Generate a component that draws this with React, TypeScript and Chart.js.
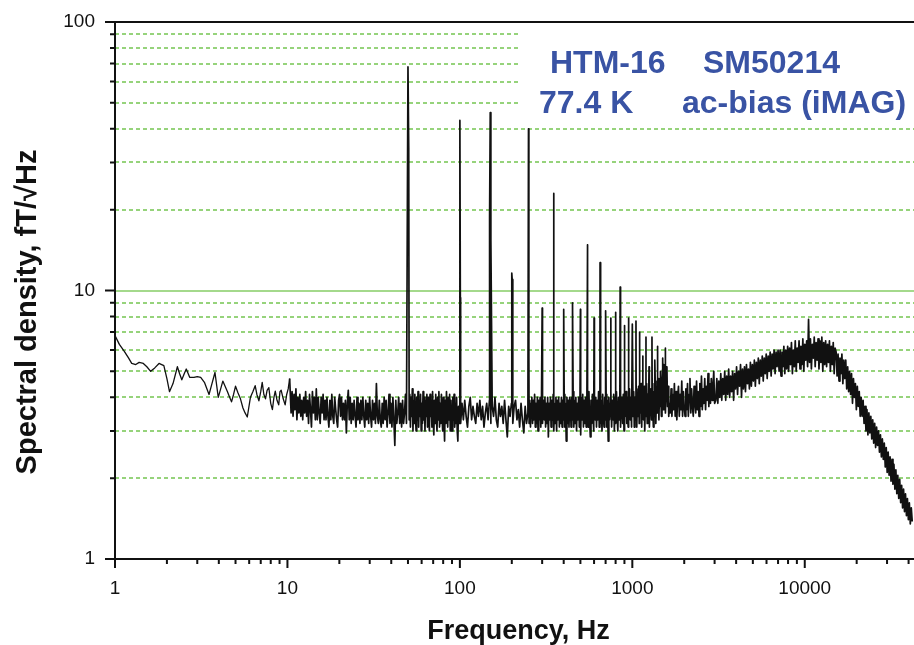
import { useEffect, useRef } from "react";
import { Chart, registerables } from "chart.js";

Chart.register(...registerables);

// ---------- DATA ----------
// Low-frequency part (1–10 Hz), read point by point
const lowFreqs = [
  1, 1.06, 1.13, 1.2, 1.25, 1.32, 1.38, 1.46, 1.53, 1.61,
  1.7, 1.8, 1.92, 2.0, 2.07, 2.17, 2.3, 2.37, 2.44, 2.52,
  2.59, 2.71, 2.87, 3.0, 3.14, 3.3, 3.51, 3.65, 3.8, 3.97,
  4.1, 4.22, 4.35, 4.49, 4.62, 4.74, 4.87, 5.0, 5.17, 5.34,
  5.52, 5.68, 5.85, 6.1, 6.3, 6.5, 6.65, 6.83, 7.0, 7.14,
  7.3, 7.46, 7.62, 7.8, 8.0, 8.18, 8.35, 8.5, 8.7, 8.9,
  9.05, 9.2, 9.45, 9.7, 9.9, 10.1, 10.3,
];
const lowValues = [
  6.8, 6.3, 5.95, 5.6, 5.35, 5.3, 5.4, 5.35, 5.2, 5.0,
  5.15, 5.35, 5.25, 4.7, 4.2, 4.5, 5.2, 4.9, 4.65, 4.9,
  5.1, 4.75, 4.75, 4.78, 4.75, 4.55, 4.1, 4.5, 4.95, 4.0,
  4.3, 4.6, 4.4, 4.2, 4.0, 3.85, 4.1, 4.4, 4.15, 3.95,
  3.65, 3.5, 3.38, 4.0, 4.2, 4.42, 4.1, 3.88, 4.2, 4.55,
  4.1, 3.95, 4.25, 4.35, 3.8, 3.6, 4.0, 4.22, 3.9, 3.75,
  4.2, 4.25, 3.95, 3.75, 4.1, 4.3, 4.7,
];

// Dense noise segments: first / last frequency of each band and the values read across it
const bandStartHz = [10.5, 50.8, 101, 252, 1010, 1660, 3050, 7100, 15200];
const bandEndHz = [49, 99, 248, 990, 1640, 3000, 7000, 15000, 42000];

const band10to50 = [
  3.5, 4.2, 3.4, 4.1, 3.6, 4.3, 3.3, 4.0, 3.5, 4.1,
  3.4, 3.9, 3.3, 4.0, 3.5, 4.2, 3.4, 3.9, 3.2, 4.1,
  3.6, 3.1, 4.2, 3.5, 4.0, 3.3, 4.3, 3.3, 4.0, 3.5,
  3.2, 4.0, 3.5, 4.1, 3.3, 3.9, 3.3, 4.0, 3.4, 3.1,
  3.9, 3.3, 4.1, 3.4, 3.2, 4.0, 3.6, 3.3, 3.1, 3.9,
  4.1, 3.4, 4.0, 3.3, 3.8, 3.3, 3.9, 2.95, 3.8, 4.25,
  3.3, 4.0, 3.2, 3.8, 3.3, 3.9, 3.4, 3.1, 4.0, 3.3,
  3.8, 3.2, 3.9, 3.3, 4.0, 3.4, 3.1, 3.9, 3.3, 3.8,
  3.2, 4.0, 3.4, 3.1, 3.9, 3.3, 3.8, 3.2, 4.5, 3.4,
  3.2, 3.9, 3.3, 3.1, 3.8, 3.2, 4.0, 3.3, 3.9, 3.1,
  3.5, 4.1, 3.2, 3.8, 3.1, 4.0, 3.3, 2.65, 3.9, 3.2,
  3.5, 4.0, 3.2, 3.8, 3.1, 3.9, 3.2, 3.5, 4.1, 3.2,
];
const band50to100 = [
  3.3, 4.1, 3.1, 4.0, 3.4, 4.3, 3.0, 3.9, 3.2, 4.1,
  3.4, 3.0, 4.0, 3.3, 4.2, 3.1, 3.9, 3.4, 4.1, 3.0,
  3.8, 3.2, 4.2, 3.3, 4.0, 3.0, 3.9, 3.4, 4.1, 3.1,
  4.0, 3.3, 3.0, 4.1, 3.4, 3.9, 3.1, 4.2, 3.3, 2.9,
  3.9, 3.2, 4.1, 3.4, 3.0, 4.0, 3.3, 4.2, 3.1, 3.8,
  3.2, 4.1, 3.4, 3.0, 4.0, 3.3, 2.75, 3.9, 3.2, 4.2,
  3.4, 3.1, 4.0, 3.3, 4.1, 3.0, 3.9, 3.4, 3.0, 4.0,
  3.3, 4.1, 3.1, 3.8, 3.2, 4.0, 3.0, 2.75, 3.7, 3.2,
];
const band100to250 = [
  3.2, 3.8, 3.3, 3.9, 3.4, 3.1, 3.7, 4.0, 3.3, 3.7,
  3.4, 3.2, 3.8, 3.4, 3.9, 3.3, 3.7, 3.1, 3.5, 3.8,
  3.3, 3.9, 3.2, 3.7, 3.4, 4.0, 3.3, 3.1, 3.8, 3.4,
  3.7, 3.2, 3.9, 3.3, 2.85, 3.7, 3.4, 3.8, 3.2, 3.7,
  3.9, 3.3, 3.6, 3.1, 3.8, 3.3, 2.95, 3.7, 3.2, 3.5,
];
const band250to1000 = [
  3.2, 3.9, 3.1, 3.8, 4.0, 3.2, 3.9, 3.3, 4.1, 3.1,
  3.8, 3.2, 4.0, 3.0, 3.9, 3.3, 4.0, 3.1, 3.8, 4.1,
  3.2, 3.9, 3.3, 4.0, 3.1, 3.8, 3.2, 4.0, 2.85, 3.8,
  3.3, 4.0, 3.1, 3.9, 3.3, 4.1, 3.0, 3.8, 3.2, 4.0,
  3.0, 3.9, 3.3, 4.0, 3.1, 3.8, 3.2, 4.0, 3.1, 3.9,
  3.3, 4.1, 3.1, 3.8, 2.75, 4.0, 3.2, 3.9, 3.1, 4.0,
  3.8, 3.1, 4.0, 3.3, 4.2, 3.1, 3.9, 3.2, 4.0, 3.0,
  3.8, 3.3, 4.0, 3.1, 3.9, 2.9, 4.0, 3.3, 4.1, 3.1,
  3.9, 3.2, 4.0, 3.1, 3.8, 4.0, 3.1, 4.2, 3.3, 2.85,
  3.9, 3.2, 4.1, 3.4, 3.0, 4.0, 3.3, 4.0, 3.1, 3.9,
  3.3, 4.2, 3.1, 4.0, 3.2, 3.9, 3.0, 4.1, 3.4, 3.1,
  4.0, 3.3, 4.1, 3.1, 3.9, 2.75, 4.0, 3.3, 3.8, 4.2,
  3.1, 3.9, 3.3, 4.1, 3.0, 4.0, 3.2, 4.2, 3.4, 3.0,
  4.0, 3.3, 4.3, 3.1, 3.9, 4.0, 3.2, 4.1, 3.0, 4.0,
  3.4, 4.2, 3.2, 4.0, 3.1, 3.9, 4.3, 3.3, 4.0, 3.1,
];
const band1000to1600 = [
  3.4, 4.2, 3.1, 4.0, 3.3, 4.3, 3.1, 3.9, 3.4, 4.4,
  3.2, 4.0, 3.5, 4.5, 3.1, 3.9, 4.2, 3.3, 4.4, 3.0,
  3.9, 3.4, 4.5, 3.2, 4.1, 3.5, 4.6, 3.1, 4.0, 4.3,
  3.3, 4.5, 3.6, 3.1, 4.2, 3.4, 4.6, 3.2, 4.1, 4.4,
  3.5, 4.7, 3.3, 4.3, 3.7, 4.9, 3.4, 4.5, 5.1, 3.6,
  5.3, 4.0, 5.0, 3.5, 4.6, 5.2, 3.7, 4.4, 3.4, 3.8,
];
const band1600to3000 = [
  3.5, 4.3, 3.4, 4.1, 3.6, 4.5, 3.4, 4.2, 3.3, 4.0,
  4.4, 3.4, 4.1, 3.6, 4.6, 3.4, 4.2, 3.7, 3.4, 4.3,
  3.6, 4.5, 3.4, 4.1, 4.7, 3.5, 4.3, 3.7, 3.4, 4.4,
  3.8, 3.5, 4.6, 3.6, 4.2, 3.4, 4.5, 3.7, 4.8, 3.6,
  4.3, 3.8, 4.7, 3.6, 4.4, 3.9, 4.9, 3.7, 4.5, 3.8,
  4.7, 3.9, 4.4, 5.0, 3.8,
];
const band3000to7000 = [
  3.9, 4.7, 3.8, 4.6, 4.0, 4.9, 3.9, 4.7, 4.1, 5.0,
  3.9, 4.8, 4.1, 5.1, 4.0, 4.8, 4.2, 5.0, 3.9, 4.9,
  4.3, 5.2, 4.1, 5.0, 4.4, 5.3, 4.0, 5.1, 4.3, 5.2,
  4.2, 5.3, 4.5, 5.1, 4.3, 5.4, 4.4, 5.3, 4.6, 5.5,
  4.4, 5.4, 4.7, 5.6, 4.5, 5.5, 4.8, 5.7, 4.6, 5.6,
  4.9, 5.8, 4.7, 5.7, 5.0, 5.9, 4.8, 5.8, 5.1, 6.0,
  4.9, 5.9, 5.2, 6.0,
];
const band7000to15000 = [
  5.0, 6.0, 4.8, 5.9, 5.2, 6.2, 4.9, 6.0, 5.1, 6.2,
  5.0, 6.1, 5.3, 6.4, 4.9, 6.0, 5.2, 6.5, 5.0, 6.1,
  5.4, 6.5, 5.1, 6.2, 5.3, 6.6, 5.0, 6.3, 5.5, 6.5,
  5.2, 7.8, 5.4, 6.6, 5.1, 6.3, 5.6, 6.7, 5.2, 6.4,
  5.5, 6.6, 5.1, 6.5, 5.4, 6.7, 5.0, 6.4, 5.3, 6.5,
  5.2, 6.3, 5.4, 6.5, 5.0, 6.2, 5.3, 6.4, 4.9, 6.1,
];
const band15000to42000 = [
  5.9, 4.8, 5.8, 4.6, 5.6, 4.9, 5.8, 4.5, 5.5, 4.7, 5.5, 4.3, 5.2, 4.2, 5.0,
  4.1, 4.9, 3.8, 4.7, 4.0, 4.5, 3.6, 4.4, 3.7, 4.2, 3.4, 4.0, 3.4, 3.9, 3.2,
  3.7, 3.0, 3.6, 2.9, 3.5, 2.95, 3.4, 2.8, 3.3, 2.7, 3.2, 2.6, 3.1, 2.65, 3.0,
  2.5, 2.9, 2.4, 2.8, 2.35,
  2.7, 2.2, 2.6, 2.1, 2.5, 2.05, 2.4, 1.95, 2.35, 1.9, 2.25, 1.82, 2.15, 1.75, 2.05,
  1.68, 1.98, 1.62, 1.88, 1.55, 1.82, 1.5, 1.75, 1.45, 1.68, 1.4, 1.62, 1.35, 1.55, 1.38,
];
const bandValues = [
  band10to50, band50to100, band100to250, band250to1000, band1000to1600,
  band1600to3000, band3000to7000, band7000to15000, band15000to42000,
];

// Power-line harmonics (spikes)
const spikeFreqs = [
  50, 50.5, 100, 100.6, 148.7, 150, 151.3, 200, 201, 250, 251.2, 300, 350, 400, 450, 500,
  550, 600, 650, 700, 750, 800, 850, 900, 950, 1000, 1050, 1100, 1150, 1200,
  1250, 1300, 1350, 1400, 1450, 1500, 1550,
];
const spikeValues = [
  68, 34, 43, 9.4, 18.8, 46, 15.4, 11.6, 11, 40, 5.7, 8.6, 23, 8.5, 9.0, 8.5,
  14.8, 7.9, 12.7, 8.4, 7.9, 8.3, 10.3, 7.4, 7.9, 7.5, 7.7, 7.0, 5.7, 6.7,
  5.2, 6.7, 5.5, 6.2, 5.0, 5.6, 6.1,
];

const xTickValues = [1, 10, 100, 1000, 10000];
const yTickValues = [1, 10, 100];
const minorMultipliers = [2, 3, 4, 5, 6, 7, 8, 9];

const X_MIN = 1;
const X_MAX = 43000;
const Y_MIN = 1;
const Y_MAX = 100;

// ---------- STYLE ----------
const FONT = "'Liberation Sans', Arial, Helvetica, sans-serif";
const GRID_GREEN = "#74c550";
const TEXT_BLUE = "#3953a4";

function lowPoints() {
  return lowFreqs.map((f, i) => ({ x: f, y: lowValues[i] }));
}

function densePoints() {
  const pts: { x: number; y: number }[] = [];
  const last = lowFreqs.length - 1;
  pts.push({ x: lowFreqs[last], y: lowValues[last] });
  bandValues.forEach((vals, b) => {
    const a = Math.log10(bandStartHz[b]);
    const z = Math.log10(bandEndHz[b]);
    const n = vals.length;
    vals.forEach((v, i) => {
      pts.push({ x: Math.pow(10, a + ((z - a) * i) / (n - 1)), y: v });
    });
  });
  spikeFreqs.forEach((f, i) => pts.push({ x: f, y: spikeValues[i] }));
  pts.sort((p, q) => p.x - q.x);
  return pts;
}

const decorPlugin = {
  id: "decor",
  beforeDatasetsDraw(chart: any) {
    const { ctx, chartArea: a, scales } = chart;
    const y = scales.y;
    ctx.save();
    // minor dashed grid
    ctx.strokeStyle = GRID_GREEN;
    ctx.lineWidth = 1.4;
    ctx.setLineDash([4, 3]);
    for (let d = 0; d < yTickValues.length - 1; d++) {
      for (const m of minorMultipliers) {
        const py = Math.round(y.getPixelForValue(yTickValues[d] * m));
        ctx.beginPath();
        ctx.moveTo(a.left, py);
        ctx.lineTo(a.right, py);
        ctx.stroke();
      }
    }
    ctx.setLineDash([]);
    // solid major grid (inner decades)
    ctx.lineWidth = 1.6;
    ctx.strokeStyle = "#86cc66";
    for (let i = 1; i < yTickValues.length - 1; i++) {
      const py = Math.round(y.getPixelForValue(yTickValues[i]));
      ctx.beginPath();
      ctx.moveTo(a.left, py);
      ctx.lineTo(a.right, py);
      ctx.stroke();
    }
    // white label box
    ctx.fillStyle = "#ffffff";
    ctx.fillRect(521, 28, a.right - 521, 90);
    // label text
    ctx.fillStyle = TEXT_BLUE;
    ctx.font = `bold 32px ${FONT}`;
    ctx.textAlign = "left";
    ctx.textBaseline = "alphabetic";
    ctx.fillText("HTM-16", 550, 73);
    ctx.fillText("SM50214", 703, 73);
    ctx.fillText("77.4 K", 539, 113);
    ctx.fillText("ac-bias (iMAG)", 682, 113);
    ctx.restore();
  },
  afterDatasetsDraw(chart: any) {
    const { ctx, chartArea: a, scales } = chart;
    const x = scales.x;
    const y = scales.y;
    ctx.save();
    ctx.strokeStyle = "#111111";
    ctx.lineWidth = 2;
    ctx.beginPath();
    ctx.moveTo(a.left, a.top);
    ctx.lineTo(a.left, a.bottom);
    ctx.moveTo(a.left - 10, a.bottom);
    ctx.lineTo(a.right, a.bottom);
    ctx.moveTo(a.left - 10, a.top);
    ctx.lineTo(a.right, a.top);
    ctx.stroke();
    // y ticks
    ctx.beginPath();
    yTickValues.forEach((v) => {
      const py = y.getPixelForValue(v);
      ctx.moveTo(a.left - 10, py);
      ctx.lineTo(a.left, py);
    });
    for (let d = 0; d < yTickValues.length - 1; d++) {
      for (const m of minorMultipliers) {
        const py = y.getPixelForValue(yTickValues[d] * m);
        ctx.moveTo(a.left - 5, py);
        ctx.lineTo(a.left, py);
      }
    }
    // x ticks
    xTickValues.forEach((v) => {
      const px = x.getPixelForValue(v);
      ctx.moveTo(px, a.bottom);
      ctx.lineTo(px, a.bottom + 9);
    });
    xTickValues.forEach((v) => {
      for (const m of minorMultipliers) {
        const val = v * m;
        if (val > X_MAX) continue;
        const px = x.getPixelForValue(val);
        ctx.moveTo(px, a.bottom);
        ctx.lineTo(px, a.bottom + 5);
      }
    });
    ctx.stroke();
    ctx.restore();
  },
  afterDraw(chart: any) {
    const { ctx, chartArea: a } = chart;
    ctx.save();
    ctx.fillStyle = "#111111";
    ctx.font = `bold 27px ${FONT}`;
    ctx.textAlign = "center";
    ctx.textBaseline = "alphabetic";
    ctx.fillText("Frequency, Hz", (a.left + a.right) / 2 + 4, 639);
    ctx.translate(36, 312);
    ctx.rotate(-Math.PI / 2);
    ctx.font = `bold 29px ${FONT}`;
    ctx.fillText("Spectral density, fT/\u221AHz", 0, 0);
    ctx.restore();
  },
};

export default function App() {
  const canvasRef = useRef<HTMLCanvasElement | null>(null);

  useEffect(() => {
    document.body.style.margin = "0";
    const canvas = canvasRef.current;
    if (!canvas) return;
    const chart = new Chart(canvas, {
      type: "scatter",
      data: {
        datasets: [
          {
            data: lowPoints(),
            showLine: true,
            borderColor: "#111111",
            borderWidth: 1.3,
            borderJoinStyle: "round",
            pointRadius: 0,
            tension: 0,
          },
          {
            data: densePoints(),
            showLine: true,
            borderColor: "#111111",
            borderWidth: 1.7,
            borderJoinStyle: "round",
            pointRadius: 0,
            tension: 0,
          },
        ],
      },
      options: {
        animation: false,
        responsive: false,
        events: [],
        layout: { padding: { top: 22, right: 0, left: 0, bottom: 0 } },
        plugins: { legend: { display: false }, tooltip: { enabled: false } },
        scales: {
          x: {
            type: "logarithmic",
            min: X_MIN,
            max: X_MAX,
            grid: { display: false, drawTicks: false },
            border: { display: false },
            afterBuildTicks: (s: any) => {
              s.ticks = xTickValues.map((v) => ({ value: v }));
            },
            afterFit: (s: any) => {
              s.height = 86;
              s.paddingLeft = 0;
              s.paddingRight = 0;
            },
            ticks: {
              autoSkip: false,
              maxRotation: 0,
              minRotation: 0,
              padding: 18,
              color: "#111111",
              font: { family: FONT, size: 19 },
              callback: (v: any) => String(v),
            },
          },
          y: {
            type: "logarithmic",
            min: Y_MIN,
            max: Y_MAX,
            grid: { display: false, drawTicks: false },
            border: { display: false },
            afterBuildTicks: (s: any) => {
              s.ticks = yTickValues.map((v) => ({ value: v }));
            },
            afterFit: (s: any) => {
              s.width = 115;
              s.paddingTop = 0;
              s.paddingBottom = 0;
            },
            ticks: {
              autoSkip: false,
              padding: 20,
              color: "#111111",
              font: { family: FONT, size: 19 },
              callback: (v: any) => String(v),
            },
          },
        },
      },
      plugins: [decorPlugin],
    });
    return () => chart.destroy();
  }, []);

  return (
    <div style={{ position: "absolute", left: 0, top: 0, width: 914, height: 645 }}>
      <canvas ref={canvasRef} width={914} height={645} style={{ width: 914, height: 645 }} />
    </div>
  );
}
